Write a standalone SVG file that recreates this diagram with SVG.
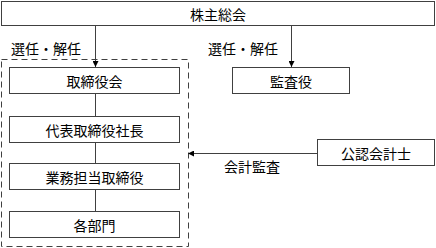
<svg xmlns="http://www.w3.org/2000/svg" width="436" height="248" viewBox="0 0 436 248">
<defs>
<style>
.box{fill:#fff;stroke:#404040;stroke-width:1}
.t{font-family:"Noto Sans CJK JP","Noto Sans CJK SC",sans-serif;font-size:14px;fill:#000;text-anchor:middle;dominant-baseline:central}
.l{font-family:"Noto Sans CJK JP","Noto Sans CJK SC",sans-serif;font-size:14px;fill:#000;dominant-baseline:central}
.c{stroke:#404040;stroke-width:1;fill:none}
.dash{fill:none;stroke:#404040;stroke-width:1;stroke-dasharray:6,4}
</style>
<marker id="ah" markerWidth="6" markerHeight="6" refX="6" refY="3" orient="auto" markerUnits="userSpaceOnUse">
<path d="M0,0 L6,3 L0,6 Z" fill="#000"/>
</marker>
</defs>
<rect class="dash" x="1.5" y="59.5" width="187" height="187"/>
<g id="connectors">
<line class="c" x1="95.5" y1="26" x2="95.5" y2="67" marker-end="url(#ah)"/>
<line class="c" x1="291.5" y1="26" x2="291.5" y2="67" marker-end="url(#ah)"/>
<line class="c" x1="95.5" y1="94" x2="95.5" y2="116"/>
<line class="c" x1="95.5" y1="142" x2="95.5" y2="163"/>
<line class="c" x1="95.5" y1="190" x2="95.5" y2="211"/>
<line class="c" x1="317" y1="153.5" x2="188" y2="153.5" stroke="#808080" marker-end="url(#ah)"/>
<text class="l" x="11" y="48">選任・解任</text>
<text class="l" x="208" y="48">選任・解任</text>
<text class="l" x="224" y="166">会計監査</text>
</g>
<g id="n1"><rect class="box" x="1.5" y="1.5" width="433" height="24"/><text class="t" x="218" y="14">株主総会</text></g>
<g id="n2"><rect class="box" x="9.5" y="67.5" width="170" height="26"/><text class="t" x="94.5" y="81">取締役会</text></g>
<g id="n3"><rect class="box" x="232.5" y="67.5" width="117" height="26"/><text class="t" x="291" y="81">監査役</text></g>
<g id="n4"><rect class="box" x="9.5" y="116.5" width="170" height="26"/><text class="t" x="94.5" y="129.5">代表取締役社長</text></g>
<g id="n5"><rect class="box" x="9.5" y="163.5" width="170" height="26"/><text class="t" x="94.5" y="176.5">業務担当取締役</text></g>
<g id="n6"><rect class="box" x="9.5" y="211.5" width="170" height="26"/><text class="t" x="94.5" y="224.5">各部門</text></g>
<g id="n7"><rect class="box" x="317.5" y="139.5" width="117" height="26"/><text class="t" x="376" y="152.5">公認会計士</text></g>
</svg>
